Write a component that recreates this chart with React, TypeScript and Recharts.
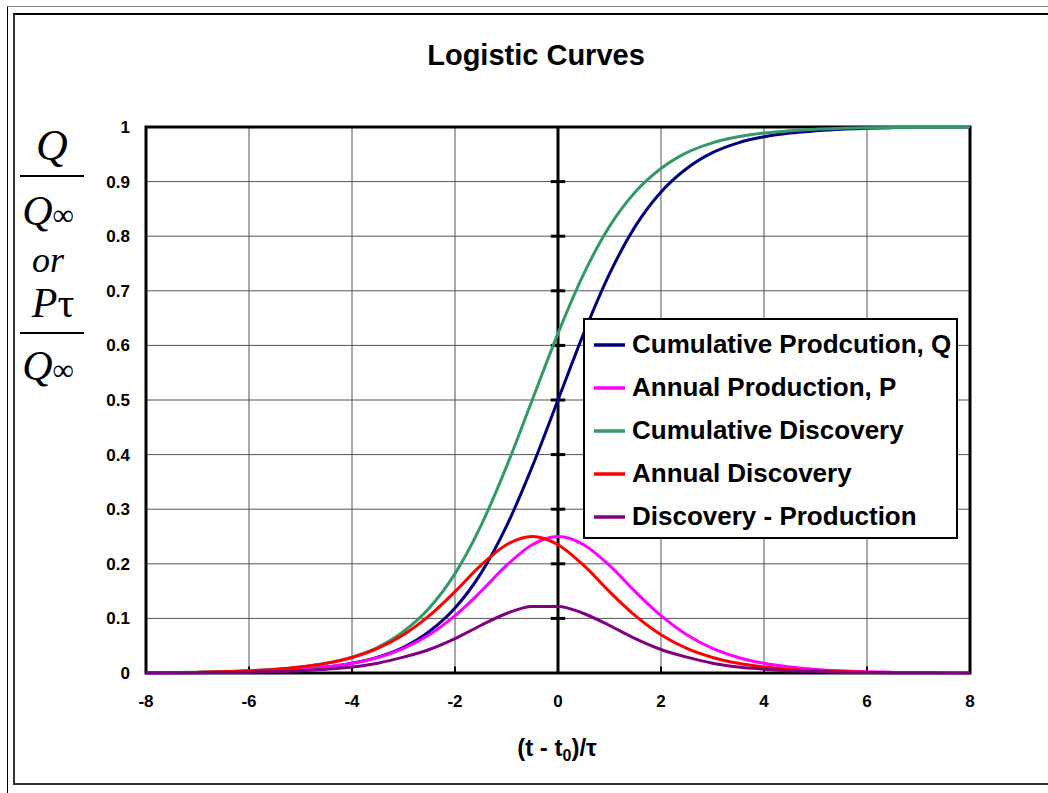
import { LineChart, Line, XAxis, YAxis, CartesianGrid, Legend, ReferenceLine, ReferenceArea } from 'recharts';

const xValues = [
  -8, -7.5, -7, -6.5, -6, -5.5, -5, -4.5, -4, -3.5, -3, -2.5, -2, -1.5, -1, -0.5,
  0, 0.5, 1, 1.5, 2, 2.5, 3, 3.5, 4, 4.5, 5, 5.5, 6, 6.5, 7, 7.5, 8,
];

const cumProduction = [
  0.0003, 0.0006, 0.0009, 0.0015, 0.0025, 0.0041, 0.0067, 0.011, 0.018, 0.029, 0.047, 0.076, 0.119, 0.182, 0.269, 0.378,
  0.5, 0.622, 0.731, 0.818, 0.881, 0.924, 0.953, 0.971, 0.982, 0.989, 0.993, 0.996, 0.9975, 0.9985, null, null, null,
];

const annualProduction = [
  0.0003, 0.0006, 0.0009, 0.0015, 0.0025, 0.0041, 0.0066, 0.0109, 0.0177, 0.0285, 0.0452, 0.07, 0.105, 0.149, 0.197, 0.235,
  0.25, 0.235, 0.197, 0.149, 0.105, 0.07, 0.045, 0.0285, 0.0177, 0.0109, 0.0066, 0.0041, 0.0025, 0.0015, null, null, null,
];

const cumDiscovery = [
  0.0006, 0.0009, 0.0015, 0.0025, 0.0041, 0.0067, 0.011, 0.018, 0.029, 0.047, 0.076, 0.119, 0.182, 0.269, 0.378, 0.5,
  0.622, 0.731, 0.818, 0.881, 0.924, 0.953, 0.971, 0.982, 0.989, 0.993, 0.996, 0.9975, 0.9985, 0.999, 0.9994, 0.9997, 0.9998,
];

const annualDiscovery = [
  null, null, 0.0015, 0.0025, 0.0041, 0.0066, 0.0109, 0.0177, 0.0285, 0.0452, 0.07, 0.105, 0.149, 0.197, 0.235, 0.25,
  0.235, 0.197, 0.149, 0.105, 0.07, 0.045, 0.0285, 0.0177, 0.0109, 0.0066, 0.0041, 0.0025, 0.0015, null, null, null, null,
];

const discoveryMinusProduction = [
  0.0003, 0.0003, 0.0006, 0.001, 0.0016, 0.0026, 0.0043, 0.007, 0.011, 0.018, 0.029, 0.043, 0.063, 0.087, 0.109, 0.122,
  0.122, 0.109, 0.087, 0.063, 0.043, 0.029, 0.018, 0.011, 0.007, 0.004, 0.003, 0.0015, 0.001, 0.0005, 0.0004, 0.0002, 0.0001,
];

const seriesNames = [
  'Cumulative Prodcution, Q',
  'Annual Production, P',
  'Cumulative Discovery',
  'Annual Discovery',
  'Discovery - Production',
];

const xTicks = [-8, -6, -4, -2, 0, 2, 4, 6, 8];
const yTicks = [0, 0.1, 0.2, 0.3, 0.4, 0.5, 0.6, 0.7, 0.8, 0.9, 1];
const axisDashes = [0.1, 0.2, 0.3, 0.4, 0.5, 0.6, 0.7, 0.8, 0.9];
const bottomTicks = [-6, -4, -2, 2, 4, 6];

const data = xValues.map((x, i) => ({
  x,
  q: cumProduction[i],
  p: annualProduction[i],
  cd: cumDiscovery[i],
  ad: annualDiscovery[i],
  dp: discoveryMinusProduction[i],
}));

const font = 'Arial, "Liberation Sans", sans-serif';
const serif = '"Times New Roman", "Liberation Serif", serif';

const renderLegend = (props: any) => {
  const payload = [...(props.payload || [])].sort(
    (a: any, b: any) => seriesNames.indexOf(a.value) - seriesNames.indexOf(b.value)
  );
  return (
    <div
      style={{
        boxSizing: 'border-box',
        width: 375,
        height: 221,
        border: '2px solid #000',
        background: '#fff',
        paddingTop: 3,
        paddingLeft: 9,
        fontFamily: font,
      }}
    >
      {payload.map((entry: any) => (
        <div key={entry.value} style={{ display: 'flex', alignItems: 'center', height: 43 }}>
          <svg width={31} height={6} style={{ marginRight: 7 }}>
            <line x1={0} y1={3} x2={31} y2={3} stroke={entry.color} strokeWidth={3.5} />
          </svg>
          <span style={{ fontSize: 26, fontWeight: 'bold', color: '#000', whiteSpace: 'nowrap' }}>{entry.value}</span>
        </div>
      ))}
    </div>
  );
};

const App = () => {
  return (
    <div style={{ position: 'relative', width: 1048, height: 793, background: '#fff', overflow: 'hidden' }}>
      <style>{'body{margin:0;overflow:hidden;}'}</style>
      <div
        style={{
          position: 'absolute',
          left: 7,
          top: 6,
          width: 1100,
          height: 820,
          borderTop: '1px solid #888',
          borderLeft: '1px solid #000',
        }}
      />
      <div
        style={{
          position: 'absolute',
          left: 13,
          top: 13,
          width: 1100,
          height: 768,
          borderTop: '2px solid #000',
          borderLeft: '2px solid #333',
          borderBottom: '2px solid #333',
        }}
      />
      <div style={{ position: 'absolute', left: 0, top: 0 }}>
        <LineChart width={1048} height={793} data={data} margin={{ top: 127, right: 78, bottom: 90, left: 86 }}>
          <CartesianGrid stroke="#555" strokeWidth={1} />
          <XAxis
            dataKey="x"
            type="number"
            domain={[-8, 8]}
            ticks={xTicks}
            axisLine={false}
            tickLine={false}
            tickMargin={16}
            tick={{ fill: '#000', fontSize: 17, fontWeight: 'bold', fontFamily: font }}
          />
          <YAxis
            type="number"
            domain={[0, 1]}
            ticks={yTicks}
            width={60}
            axisLine={false}
            tickLine={false}
            tickMargin={10}
            tick={{ fill: '#000', fontSize: 17, fontWeight: 'bold', fontFamily: font }}
          />
          <ReferenceLine x={0} stroke="#000" strokeWidth={3} />
          {axisDashes.map((y) => (
            <ReferenceLine key={'d' + y} segment={[{ x: -0.14, y }, { x: 0.14, y }]} stroke="#000" strokeWidth={3} />
          ))}
          {bottomTicks.map((x) => (
            <ReferenceLine key={'b' + x} segment={[{ x, y: 0 }, { x, y: 0.012 }]} stroke="#000" strokeWidth={2} />
          ))}
          <ReferenceArea x1={-8} x2={8} y1={0} y2={1} fill="none" stroke="#000" strokeWidth={3} ifOverflow="visible" />
          <Line type="monotone" dataKey="q" name={seriesNames[0]} stroke="#000080" strokeWidth={3} dot={false} isAnimationActive={false} />
          <Line type="monotone" dataKey="p" name={seriesNames[1]} stroke="#FF00FF" strokeWidth={3} dot={false} isAnimationActive={false} />
          <Line type="monotone" dataKey="cd" name={seriesNames[2]} stroke="#339966" strokeWidth={3} dot={false} isAnimationActive={false} />
          <Line type="monotone" dataKey="ad" name={seriesNames[3]} stroke="#FF0000" strokeWidth={3} dot={false} isAnimationActive={false} />
          <Line type="monotone" dataKey="dp" name={seriesNames[4]} stroke="#800080" strokeWidth={3} dot={false} isAnimationActive={false} />
          <Legend
            layout="vertical"
            align="center"
            verticalAlign="middle"
            content={renderLegend}
            wrapperStyle={{ position: 'absolute', left: 583, top: 318, width: 375, height: 221 }}
          />
        </LineChart>
      </div>
      <svg width={1048} height={793} style={{ position: 'absolute', left: 0, top: 0, pointerEvents: 'none' }}>
        <text x={536} y={65} textAnchor="middle" fontFamily={font} fontWeight="bold" fontSize={29} fill="#000">
          Logistic Curves
        </text>
        <text x={557} y={756} textAnchor="middle" fontFamily={font} fontWeight="bold" fontSize={24} fill="#000">
          (t - t<tspan fontSize={16} dy={5}>0</tspan>
          <tspan dy={-5}>)/τ</tspan>
        </text>
        <g fontFamily={serif} fill="#000">
          <text x={52} y={160} textAnchor="middle" fontStyle="italic" fontSize={44}>Q</text>
          <line x1={20} y1={176} x2={84} y2={176} stroke="#000" strokeWidth={2} />
          <text x={48} y={225} textAnchor="middle" fontSize={42}>
            <tspan fontStyle="italic">Q</tspan>
            <tspan fontSize={30}>∞</tspan>
          </text>
          <text x={48} y={272} textAnchor="middle" fontStyle="italic" fontSize={36}>or</text>
          <text x={53} y={317} textAnchor="middle" fontSize={42}>
            <tspan fontStyle="italic">P</tspan>
            <tspan>τ</tspan>
          </text>
          <line x1={20} y1={333} x2={84} y2={333} stroke="#000" strokeWidth={2} />
          <text x={48} y={380} textAnchor="middle" fontSize={42}>
            <tspan fontStyle="italic">Q</tspan>
            <tspan fontSize={30}>∞</tspan>
          </text>
        </g>
      </svg>
    </div>
  );
};

export default App;
